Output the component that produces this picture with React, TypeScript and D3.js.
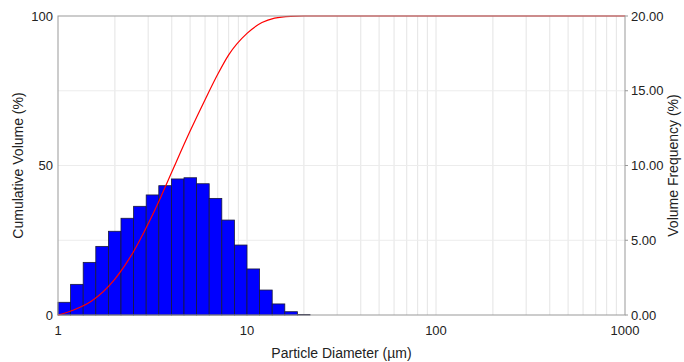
import React from "react";
import * as d3 from "d3";

// histogram: 15 bins per decade starting at 1 µm
const binsPerDecade = 15;
const freqValues = [
  0.85, 2.05, 3.52, 4.59, 5.6, 6.47, 7.27, 8.03, 8.65, 9.1,
  9.18, 8.78, 7.8, 6.35, 4.68, 3.08, 1.67, 0.74, 0.22, 0.04,
];

// cumulative curve
const cumDiam = [1.0, 1.2, 1.5, 2.0, 2.5, 3.0, 3.5, 4.0, 5.0, 6.0, 7.0, 8.0, 10, 12, 14, 17, 20, 1000];
const cumValues = [0, 1.6, 4.6, 12.0, 21.0, 30.5, 39.5, 47.8, 61.5, 72.0, 80.5, 87.0, 94.2, 97.8, 99.3, 99.9, 100, 100];

const xTicks = [1, 10, 100, 1000];
const leftTicks = [0, 50, 100];
const rightTicks = [0, 5, 10, 15, 20];

const W = 684;
const H = 362;
const m = { left: 58, right: 59, top: 16, bottom: 47 };

const App: React.FC = () => {
  const x = d3.scaleLog().domain([1, 1000]).range([m.left, W - m.right]);
  const yL = d3.scaleLinear().domain([0, 100]).range([H - m.bottom, m.top]);
  const yR = d3.scaleLinear().domain([0, 20]).range([H - m.bottom, m.top]);

  const bars = freqValues.map((v, i) => ({
    x0: Math.pow(10, i / binsPerDecade),
    x1: Math.pow(10, (i + 1) / binsPerDecade),
    v,
  }));

  const gridX: number[] = [];
  for (let dec = 1; dec < 1000; dec *= 10) {
    for (let k = 1; k < 10; k++) gridX.push(dec * k);
  }

  const line = d3
    .line<number>()
    .x((_, i) => x(cumDiam[i]))
    .y((d) => yL(d))
    .curve(d3.curveMonotoneX);

  const font = "Arial, 'Liberation Sans', sans-serif";
  const y0 = H - m.bottom;

  return (
    <svg
      width={W}
      height={H}
      style={{ position: "absolute", left: 0, top: 0, fontFamily: font }}
    >
      <rect width={W} height={H} fill="white" />

      {/* grid */}
      {gridX.slice(1).map((g) => (
        <line key={g} x1={x(g)} x2={x(g)} y1={m.top} y2={y0} stroke="#e4e4e4" strokeWidth={1} />
      ))}
      {[25, 50, 75].map((g) => (
        <line key={g} x1={m.left} x2={W - m.right} y1={yL(g)} y2={yL(g)} stroke="#ececec" strokeWidth={1} />
      ))}

      {/* histogram */}
      {bars.map((b, i) => (
        <rect
          key={i}
          x={x(b.x0)}
          y={yR(b.v)}
          width={x(b.x1) - x(b.x0)}
          height={y0 - yR(b.v)}
          fill="#0000ff"
          stroke="#1a1a3a"
          strokeWidth={0.8}
        />
      ))}

      {/* cumulative */}
      <path d={line(cumValues) || ""} fill="none" stroke="#ff0000" strokeWidth={1.2} />

      {/* frame */}
      <rect
        x={m.left}
        y={m.top}
        width={W - m.right - m.left}
        height={y0 - m.top}
        fill="none"
        stroke="#999"
        strokeWidth={1}
      />

      {/* left axis */}
      {leftTicks.map((t) => (
        <text key={t} x={m.left - 5} y={yL(t)} dy="0.35em" textAnchor="end" fontSize={13} fill="#222">
          {t}
        </text>
      ))}
      {/* right axis */}
      {rightTicks.map((t) => (
        <g key={t}>
          <line x1={W - m.right} x2={W - m.right + 3} y1={yR(t)} y2={yR(t)} stroke="#999" />
          <text x={W - m.right + 6} y={yR(t)} dy="0.35em" fontSize={13} fill="#222">
            {t.toFixed(2)}
          </text>
        </g>
      ))}
      {/* bottom axis */}
      {xTicks.map((t) => (
        <text key={t} x={x(t)} y={y0 + 20} textAnchor="middle" fontSize={13} fill="#222">
          {t}
        </text>
      ))}

      <text x={(m.left + W - m.right) / 2} y={H - 4} textAnchor="middle" fontSize={14} fill="#222">
        Particle Diameter (µm)
      </text>
      <text
        transform={`translate(23, ${(m.top + y0) / 2}) rotate(-90)`}
        textAnchor="middle"
        fontSize={14}
        fill="#222"
      >
        Cumulative Volume (%)
      </text>
      <text
        transform={`translate(678, ${(m.top + y0) / 2}) rotate(-90)`}
        textAnchor="middle"
        fontSize={14}
        fill="#222"
      >
        Volume Frequency (%)
      </text>
    </svg>
  );
};

export default App;
